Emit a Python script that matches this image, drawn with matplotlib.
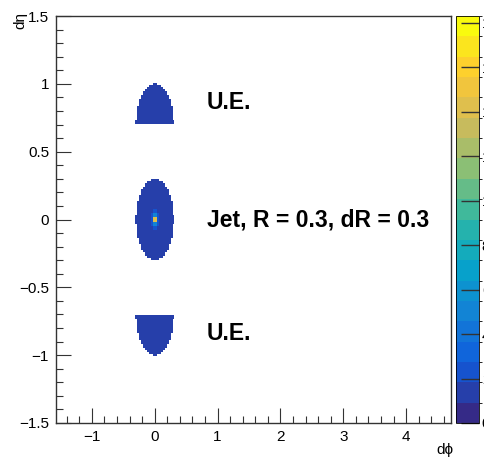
import numpy as np
import matplotlib
matplotlib.use("Agg")
import matplotlib.pyplot as plt
from matplotlib.colors import LinearSegmentedColormap, BoundaryNorm
from matplotlib.ticker import MultipleLocator

plt.rcParams['font.family'] = ['Liberation Sans', 'DejaVu Sans']

# histogram binning (d-phi, d-eta)
n_phi, n_eta = 200, 200
phi_lo, phi_hi = -np.pi / 2, 3 * np.pi / 2
eta_lo, eta_hi = -1.5, 1.5

# jet cone and underlying-event regions
jet_center = (0.0, 0.0)
cone_radius = 0.3
ue_eta_centers = [0.7, -0.7]      # half discs opening away from the jet
ue_value = 1.0

# jet radial profile (outer radius of ring -> bin content)
core_radii = [0.02, 0.045, 0.07, 0.30]
core_values = [14.0, 5.0, 2.5, 1.0]

z_max = 18.3
n_levels = 20

# ROOT kBird palette
bird_stops = [0.0, 0.125, 0.25, 0.375, 0.5, 0.625, 0.75, 0.875, 1.0]
bird_r = [0.2082, 0.0592, 0.0780, 0.0232, 0.1802, 0.5301, 0.8186, 0.9956, 0.9764]
bird_g = [0.1664, 0.3599, 0.5041, 0.6419, 0.7178, 0.7492, 0.7328, 0.7862, 0.9832]
bird_b = [0.5293, 0.8684, 0.8385, 0.7914, 0.6425, 0.4662, 0.3499, 0.1968, 0.0539]

bird = LinearSegmentedColormap.from_list(
    "bird", list(zip(bird_stops, zip(bird_r, bird_g, bird_b))))
levels = np.linspace(0, z_max, n_levels + 1)
norm = BoundaryNorm(levels, bird.N)

phi_edges = np.linspace(phi_lo, phi_hi, n_phi + 1)
eta_edges = np.linspace(eta_lo, eta_hi, n_eta + 1)
phi_c = 0.5 * (phi_edges[:-1] + phi_edges[1:])
eta_c = 0.5 * (eta_edges[:-1] + eta_edges[1:])
PHI, ETA = np.meshgrid(phi_c, eta_c)

counts = np.zeros_like(PHI)

# jet cone, filled from the outside in
r_jet = np.hypot(PHI - jet_center[0], ETA - jet_center[1])
for rad, val in sorted(zip(core_radii, core_values), reverse=True):
    counts[r_jet <= rad] = val

# underlying-event half discs
for ec in ue_eta_centers:
    r_ue = np.hypot(PHI, ETA - ec)
    side = (ETA - ec) * np.sign(ec) >= 0
    counts[(r_ue <= cone_radius) & side] = ue_value

H = np.ma.masked_where(counts <= 0, counts)

fig = plt.figure(figsize=(4.85, 4.58), dpi=100)
ax = fig.add_axes([56 / 485, 35 / 458, 395 / 485, 407 / 458])
cax = fig.add_axes([456 / 485, 35 / 458, 23 / 485, 407 / 458])

mesh = ax.pcolormesh(phi_edges, eta_edges, H, cmap=bird, norm=norm)
ax.set_xlim(phi_lo, phi_hi)
ax.set_ylim(eta_lo, eta_hi)

ax.xaxis.set_major_locator(MultipleLocator(1))
ax.xaxis.set_minor_locator(MultipleLocator(0.2))
ax.yaxis.set_major_locator(MultipleLocator(0.5))
ax.yaxis.set_minor_locator(MultipleLocator(0.1))
ax.tick_params(which='both', direction='in', top=False, right=False,
               labelsize=11, width=0.8, color='#333333')
ax.tick_params(which='major', length=11)
ax.tick_params(which='minor', length=5)
ax.tick_params(axis='x', pad=5)
ax.tick_params(axis='y', pad=5)
for sp in ax.spines.values():
    sp.set_linewidth(1.0)
    sp.set_color('#333333')

ax.set_xticks([-1, 0, 1, 2, 3, 4])
ax.set_xticklabels(['\u22121', '0', '1', '2', '3', '4'])
ax.set_yticks([-1.5, -1, -0.5, 0, 0.5, 1, 1.5])
ax.set_yticklabels(['\u22121.5', '\u22121', '\u22120.5', '0', '0.5', '1', '1.5'])

fig.text(454 / 485, 1 - 450 / 458, "d\u03d5", ha='right', va='center', fontsize=11)
fig.text(20 / 485, 1 - 12 / 458, "d\u03b7", ha='center', va='top', rotation=90, fontsize=11)

txt = dict(fontsize=16.5, fontweight='bold', ha='left', va='center')
ax.text(0.83, 0.86, "U.E.", **txt)
ax.text(0.83, 0.0, "Jet, R = 0.3, dR = 0.3", **txt)
ax.text(0.83, -0.84, "U.E.", **txt)

cb = fig.colorbar(mesh, cax=cax, ticks=np.arange(0, 19, 2))
cb.outline.set_linewidth(0.6)
cax.tick_params(direction='in', length=13, width=1.0, color='#333333',
                labelsize=11, pad=2)

fig.savefig("out.png", dpi=100)
